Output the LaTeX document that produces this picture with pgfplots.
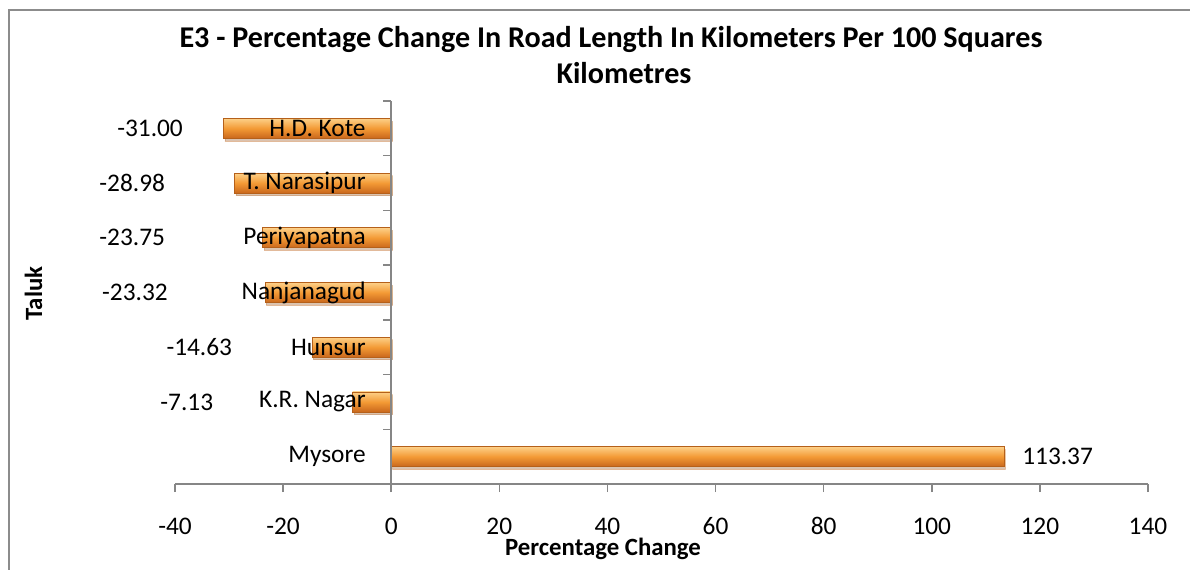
\documentclass[border=0pt]{standalone}
\usepackage{pgfplots}
\pgfplotsset{compat=1.18}
\usetikzlibrary{shadows}
\usepackage{fontspec}
\setmainfont{Carlito}
\definecolor{axgray}{HTML}{868686}
\definecolor{bordergray}{HTML}{8C8C8C}
\definecolor{barlight}{HTML}{FDD088}
\definecolor{barmid}{HTML}{F39A35}
\definecolor{bardark}{HTML}{C9671C}
\definecolor{baredge}{HTML}{B5601A}
\begin{document}
\begin{tikzpicture}
\pgfplotsset{barstyle/.style={xbar, bar width=15pt, bar shift=0pt, draw=baredge, line width=0.6pt,
  top color=barlight, bottom color=bardark, middle color=barmid,
  drop shadow={opacity=0.25, shadow xshift=1pt, shadow yshift=-2pt}}}
\begin{axis}[
  at={(131.25pt,63.75pt)}, anchor=south west,
  scale only axis, width=729.75pt, height=287.25pt,
  xmin=-40, xmax=140, ymin=-0.5, ymax=6.5,
  axis x line*=bottom, axis y line*=middle,
  axis on top,
  hide obscured x ticks=false, hide obscured y ticks=false,
  axis line style={axgray, line width=1.1pt},
  tick style={axgray, line width=1.1pt},
  tick align=outside, major tick length=6pt,
  xtick={-40,-20,...,140},
  x tick label style={font=\fontsize{19}{22}\selectfont, anchor=base, inner sep=0pt, yshift=-31.5pt},
  ytick={-0.5,0.5,...,6.5},
  y tick label as interval,
  yticklabels={Mysore, K.R. Nagar, Hunsur, Nanjanagud, Periyapatna, T. Narasipur, H.D. Kote},
  y tick label style={font=\fontsize{19}{22}\selectfont, anchor=east, inner sep=0pt, xshift=-13pt},
  /pgf/number format/assume math mode=true,
  clip=false,
]
\addplot[barstyle] coordinates {(113.37,0)};
\addplot[barstyle] coordinates {(-7.13,1)};
\addplot[barstyle] coordinates {(-14.63,2)};
\addplot[barstyle] coordinates {(-23.32,3)};
\addplot[barstyle] coordinates {(-23.75,4)};
\addplot[barstyle] coordinates {(-28.98,5)};
\addplot[barstyle] coordinates {(-31.00,6)};
\begin{scope}[every node/.style={font=\fontsize{19}{22}\selectfont, inner sep=0pt}]
\node[anchor=east] at (axis cs:-38.5,6) {-31.00};
\node[anchor=east] at (axis cs:-41.8,5) {-28.98};
\node[anchor=east] at (axis cs:-41.8,4) {-23.75};
\node[anchor=east] at (axis cs:-41.3,3) {-23.32};
\node[anchor=east] at (axis cs:-29.4,2) {-14.63};
\node[anchor=east] at (axis cs:-32.9,1) {-7.13};
\node[anchor=west] at (axis cs:116.7,0) {113.37};
\end{scope}
\end{axis}
\node[font=\bfseries\fontsize{22.6}{27}\selectfont, anchor=base] at (458.25pt,390.75pt) {E3 - Percentage Change In Road Length In Kilometers Per 100 Squares};
\node[font=\bfseries\fontsize{22.6}{27}\selectfont, anchor=base] at (468pt,363.75pt) {Kilometres};
\node[font=\bfseries\fontsize{18.6}{22}\selectfont, anchor=base] at (452.25pt,10.5pt) {Percentage Change};
\node[font=\bfseries\fontsize{18.6}{22}\selectfont, rotate=90] at (25.1pt,206.6pt) {Taluk};
\draw[bordergray, line width=1.5pt] (7.1pt,-5pt) -- (7.1pt,418.9pt) -- (900pt,418.9pt);
\pgfresetboundingbox
\useasboundingbox (0,0) rectangle (892.5pt,426.75pt);
\end{tikzpicture}
\end{document}
